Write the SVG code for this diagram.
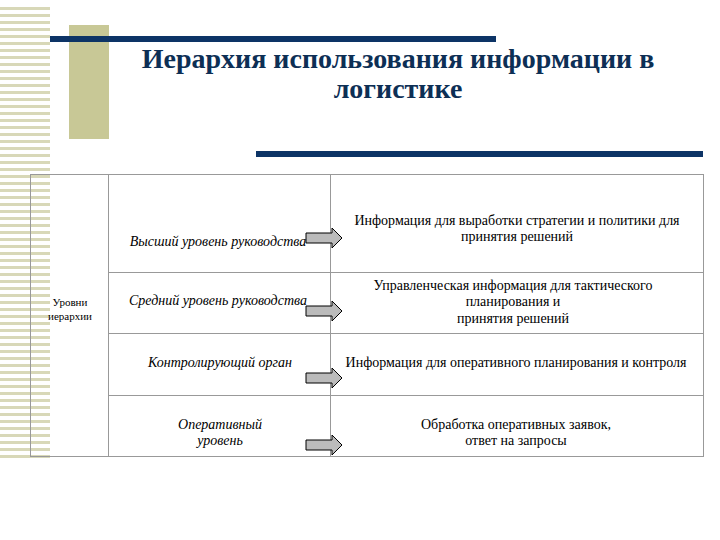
<svg xmlns="http://www.w3.org/2000/svg" width="720" height="540" viewBox="0 0 720 540">
<style>
.t{font-family:"Liberation Serif","DejaVu Serif",serif;font-size:14px;fill:#000}
.i{font-style:italic}
.g{stroke:#999;stroke-width:1;fill:none}
.ar{fill:#bbb;stroke:#000;stroke-width:1}
.h{font-family:"Liberation Serif","DejaVu Serif",serif;font-weight:bold;font-size:28px;fill:#0d2f55}
</style>
<defs>
<pattern id="st" width="50" height="7" patternUnits="userSpaceOnUse"><rect width="50" height="3" fill="#d8d8b8"/></pattern>
<path id="arw" d="M0,-5 H26 V-10 L36,0 L26,10 V5 H0 Z"/>
</defs>
<rect width="720" height="540" fill="#fff"/>
<rect x="0" y="3" width="50" height="455" fill="url(#st)"/>
<rect x="69" y="25" width="40" height="114" fill="#c8c896"/>
<rect x="50" y="36" width="446" height="6" fill="#0d3466"/>
<rect x="256" y="151" width="447" height="6" fill="#0d3466"/>
<g id="title" class="h" text-anchor="middle">
<text x="398" y="68">Иерархия использования информации в</text>
<text x="398" y="98">логистике</text>
</g>
<g id="table">
<rect x="30.5" y="174.5" width="673" height="282" class="g"/>
<line x1="108.5" y1="174" x2="108.5" y2="457" class="g"/>
<line x1="330.5" y1="174" x2="330.5" y2="457" class="g"/>
<line x1="108" y1="272.5" x2="703" y2="272.5" class="g"/>
<line x1="108" y1="333.5" x2="703" y2="333.5" class="g"/>
<line x1="108" y1="395.5" x2="703" y2="395.5" class="g"/>
</g>
<g id="levels" class="t" text-anchor="middle" style="font-size:11px">
<text x="70" y="306">Уровни</text>
<text x="70" y="320">иерархии</text>
</g>
<g id="n1"><text class="t i" x="218" y="246" text-anchor="middle">Высший уровень руководства</text>
<text class="t" x="517" y="225" text-anchor="middle">Информация для выработки стратегии и политики для</text>
<text class="t" x="517" y="241" text-anchor="middle">принятия решений</text></g>
<g id="n2"><text class="t i" x="218" y="305" text-anchor="middle">Средний уровень руководства</text>
<text class="t" x="513" y="290" text-anchor="middle">Управленческая информация для тактического</text>
<text class="t" x="513" y="306" text-anchor="middle">планирования и</text>
<text class="t" x="513" y="323" text-anchor="middle">принятия решений</text></g>
<g id="n3"><text class="t i" x="220" y="367" text-anchor="middle">Контролирующий орган</text>
<text class="t" x="516" y="367" text-anchor="middle">Информация для оперативного планирования и контроля</text></g>
<g id="n4"><text class="t i" x="220" y="429" text-anchor="middle">Оперативный</text>
<text class="t i" x="220" y="445" text-anchor="middle">уровень</text>
<text class="t" x="516" y="429" text-anchor="middle">Обработка оперативных заявок,</text>
<text class="t" x="516" y="445" text-anchor="middle">ответ на запросы</text></g>
<g id="connectors">
<use href="#arw" class="ar" transform="translate(306,238)"/>
<use href="#arw" class="ar" transform="translate(306,311)"/>
<use href="#arw" class="ar" transform="translate(306,378)"/>
<use href="#arw" class="ar" transform="translate(306,445)"/>
</g>
</svg>
